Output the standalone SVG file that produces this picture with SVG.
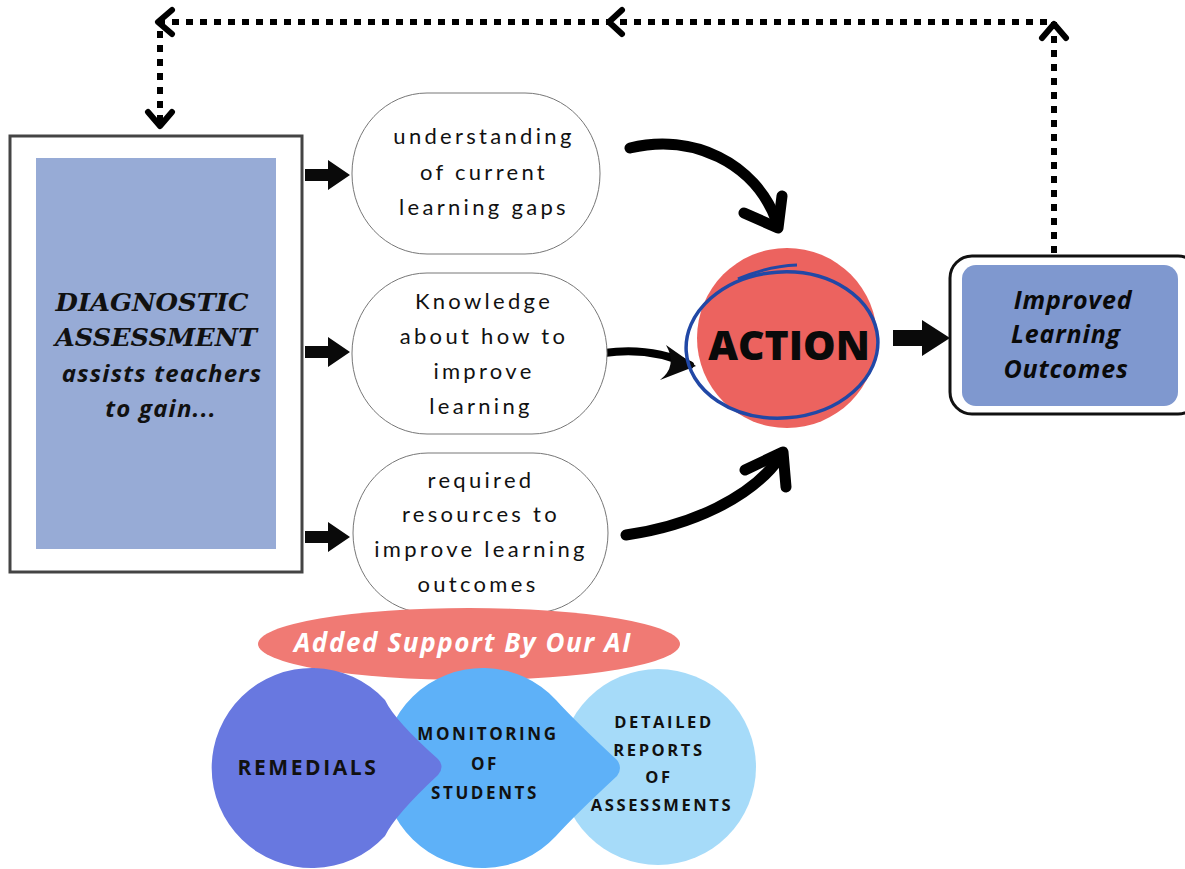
<svg xmlns="http://www.w3.org/2000/svg" width="1185" height="869" viewBox="0 0 1185 869">
<style>
.oval{fill:#fff;stroke:#777;stroke-width:1}
.otext{font-family:Lato,"Open Sans",sans-serif;font-weight:400;font-size:22px;letter-spacing:3.3px;fill:#111;text-anchor:middle}
.dash{fill:none;stroke:#000;stroke-width:6;stroke-dasharray:7 7}
.chev{fill:none;stroke:#000;stroke-width:6;stroke-linecap:round;stroke-linejoin:round}
.curve{fill:none;stroke:#000;stroke-width:11;stroke-linecap:round;stroke-linejoin:round}
.blk{fill:#0a0a0a}
.cap{font-family:"Open Sans","Liberation Sans",sans-serif;font-weight:700;fill:#111;text-anchor:middle;letter-spacing:2.6px}
.bi{font-family:"Open Sans",sans-serif;font-style:italic;font-weight:700;text-anchor:middle}
</style>
<g id="connectors">
  <path class="dash" d="M160,122 V22 H1054 V255"/>
  <polyline class="chev" points="172,10 158,22 172,34"/>
  <polyline class="chev" points="148,112 160,126 172,112"/>
  <polyline class="chev" points="622,10 609,22 622,34"/>
  <polyline class="chev" points="1042,38 1054,24 1066,38"/>
  <path class="blk" d="M305,169 H328 V160 L350,175 L328,190 V181 H305 Z"/>
  <path class="blk" d="M305,346 H328 V337 L350,352 L328,367 V358 H305 Z"/>
  <path class="blk" d="M305,531 H328 V522 L350,537 L328,552 V543 H305 Z"/>
  <path class="curve" d="M630,148 C692,133 755,162 777,222"/>
  <polyline class="curve" points="744,213 778,228 782,196"/>
  <path class="curve" d="M626,535 C690,526 752,498 781,456"/>
  <polyline class="curve" points="745,470 783,452 786,487"/>
  <path class="curve" style="stroke-width:8" d="M604,353 C632,349 663,352 690,365"/>
  <path class="blk" d="M666,345 L696,366 L660,380 Q678,366 666,345 Z"/>
  <path class="blk" d="M893,330 H922 V320 L950,338 L922,356 V346 H893 Z"/>
</g>
<g id="diagnostic">
  <rect x="10" y="136" width="292" height="436" fill="#fff" stroke="#444" stroke-width="3"/>
  <rect x="36" y="158" width="240" height="391" fill="#97abd6"/>
  <text font-family="'DejaVu Serif','Liberation Serif',serif" font-style="italic" font-weight="700" font-size="25" fill="#111" x="152" y="311" text-anchor="middle" textLength="193" lengthAdjust="spacingAndGlyphs">DIAGNOSTIC</text>
  <text font-family="'DejaVu Serif','Liberation Serif',serif" font-style="italic" font-weight="700" font-size="25" fill="#111" x="156" y="346" text-anchor="middle" textLength="202" lengthAdjust="spacingAndGlyphs">ASSESSMENT</text>
  <text class="bi" font-size="24" letter-spacing="1.2" fill="#111" x="162" y="382">assists teachers</text>
  <text class="bi" font-size="24" letter-spacing="1.2" fill="#111" x="161" y="417">to gain...</text>
</g>
<g id="oval1">
  <rect class="oval" x="352" y="93" width="248" height="161" rx="75" ry="80"/>
  <text class="otext" x="484" y="144">understanding</text>
  <text class="otext" x="484" y="180">of current</text>
  <text class="otext" x="484" y="215">learning gaps</text>
</g>
<g id="oval2">
  <rect class="oval" x="352" y="273" width="255" height="161" rx="75" ry="80"/>
  <text class="otext" x="484" y="309">Knowledge</text>
  <text class="otext" x="484" y="344">about how to</text>
  <text class="otext" x="484" y="379">improve</text>
  <text class="otext" x="481" y="414">learning</text>
</g>
<g id="oval3">
  <rect class="oval" x="353" y="453" width="255" height="160" rx="75" ry="80"/>
  <text class="otext" x="481" y="488">required</text>
  <text class="otext" x="481" y="522">resources to</text>
  <text class="otext" x="481" y="557">improve learning</text>
  <text class="otext" x="478" y="592">outcomes</text>
</g>
<g id="action">
  <ellipse cx="787" cy="338" rx="90" ry="90" fill="#ec635f"/>
  <ellipse cx="782" cy="345" rx="96" ry="73" fill="none" stroke="#2148a6" stroke-width="3.5" transform="rotate(-4 782 345)"/>
  <path d="M738,279 Q768,266 797,265" fill="none" stroke="#2148a6" stroke-width="3"/>
  <text font-family="'Open Sans',sans-serif" font-weight="800" font-size="41" fill="#0a0a0a" x="789" y="360" text-anchor="middle">ACTION</text>
</g>
<g id="improved">
  <rect x="950" y="256" width="250" height="158" rx="22" fill="#fff" stroke="#111" stroke-width="3"/>
  <rect x="962" y="265" width="216" height="141" rx="14" fill="#7f98cf"/>
  <text class="bi" font-size="25" letter-spacing="0.8" fill="#0a0a0a" x="1073" y="309">Improved</text>
  <text class="bi" font-size="25" letter-spacing="0.8" fill="#0a0a0a" x="1066" y="343">Learning</text>
  <text class="bi" font-size="25" letter-spacing="0.8" fill="#0a0a0a" x="1066" y="378">Outcomes</text>
</g>
<g id="ai-support">
  <ellipse cx="469" cy="644" rx="211" ry="36" fill="#f07a74"/>
  <text class="bi" font-size="26" letter-spacing="1.6" fill="#fff" x="463" y="652">Added Support By Our AI</text>
</g>
<g id="detailed">
  <circle cx="658" cy="767" r="98" fill="#a6dbf9"/>
  <text class="cap" font-size="16.5" x="664" y="728">DETAILED</text>
  <text class="cap" font-size="16.5" x="659" y="756">REPORTS</text>
  <text class="cap" font-size="16.5" x="659" y="783">OF</text>
  <text class="cap" font-size="16.5" x="662" y="811">ASSESSMENTS</text>
</g>
<g id="monitoring">
  <path d="M556,700 A100,100 0 1 0 556,836 Q575,815 617,776 Q623,768 617,760 Q575,721 556,700 Z" fill="#5eb1f8"/>
  <text class="cap" font-size="17" x="488" y="740">MONITORING</text>
  <text class="cap" font-size="17" x="485" y="770">OF</text>
  <text class="cap" font-size="17" x="485" y="799">STUDENTS</text>
</g>
<g id="remedials">
  <path d="M385,700 A100,100 0 1 0 385,836 Q395,815 438,775 Q445,767 438,759 Q395,721 385,700 Z" fill="#6878e0"/>
  <text class="cap" font-size="21" letter-spacing="3.2" x="308" y="775">REMEDIALS</text>
</g>
</svg>
